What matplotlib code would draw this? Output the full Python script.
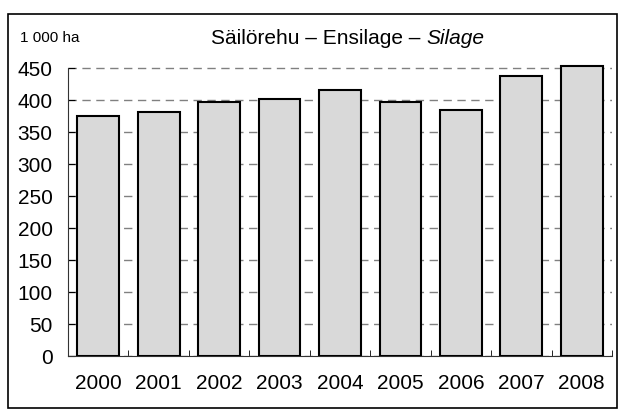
import matplotlib.pyplot as plt
from matplotlib.patches import Rectangle

years = ["2000", "2001", "2002", "2003", "2004", "2005", "2006", "2007", "2008"]
silage = [375, 381, 397, 401, 415, 397, 385, 437, 453]
yticks = [0, 50, 100, 150, 200, 250, 300, 350, 400, 450]

plt.rcParams["font.family"] = ["Liberation Sans", "DejaVu Sans"]

fig = plt.figure(figsize=(6.23, 4.15), dpi=100)
# 32 px per 50 units, zero at y=356
top = 462
ax = fig.add_axes([68 / 623, 1 - 356 / 415, 544 / 623, top * 32 / 50 / 415])

x = list(range(len(years)))
ax.bar(x, silage, width=0.69, color="#d9d9d9", edgecolor="black", linewidth=1.5, zorder=3)

ax.set_xlim(-0.5, len(years) - 0.5)
ax.set_ylim(0, top)
ax.set_yticks(yticks)
ax.tick_params(axis="y", direction="in", length=5, labelsize=15, pad=11)
ax.set_xticks(x)
ax.set_xticklabels(years)
ax.set_xticks([i - 0.5 for i in range(len(years) + 1)], minor=True)
ax.tick_params(axis="x", which="major", length=0, labelsize=15, pad=13)
ax.tick_params(axis="x", which="minor", direction="in", length=4)

ax.grid(axis="y", linestyle=(0, (6, 4)), color="#808080", linewidth=1, zorder=0)
for s in ["top", "right"]:
    ax.spines[s].set_visible(False)
ax.spines["left"].set_bounds(0, 450)
ax.spines["left"].set_color("#333333")
ax.spines["bottom"].set_color("#333333")

fig.text(20 / 623, 1 - 38 / 415, "1 000 ha", fontsize=11, va="center", ha="left")
fig.text(426 / 623, 1 - 38 / 415, "Säilörehu – Ensilage – ", fontsize=15,
         va="center", ha="right")
fig.text(426 / 623, 1 - 38 / 415, "Silage", fontsize=15, style="italic",
         va="center", ha="left")

fig.patches.append(Rectangle((8 / 623, 1 - 408 / 415), 609 / 623, 394 / 415,
                             transform=fig.transFigure, fill=False,
                             edgecolor="black", linewidth=1.2))

plt.savefig("out.png", dpi=100)
